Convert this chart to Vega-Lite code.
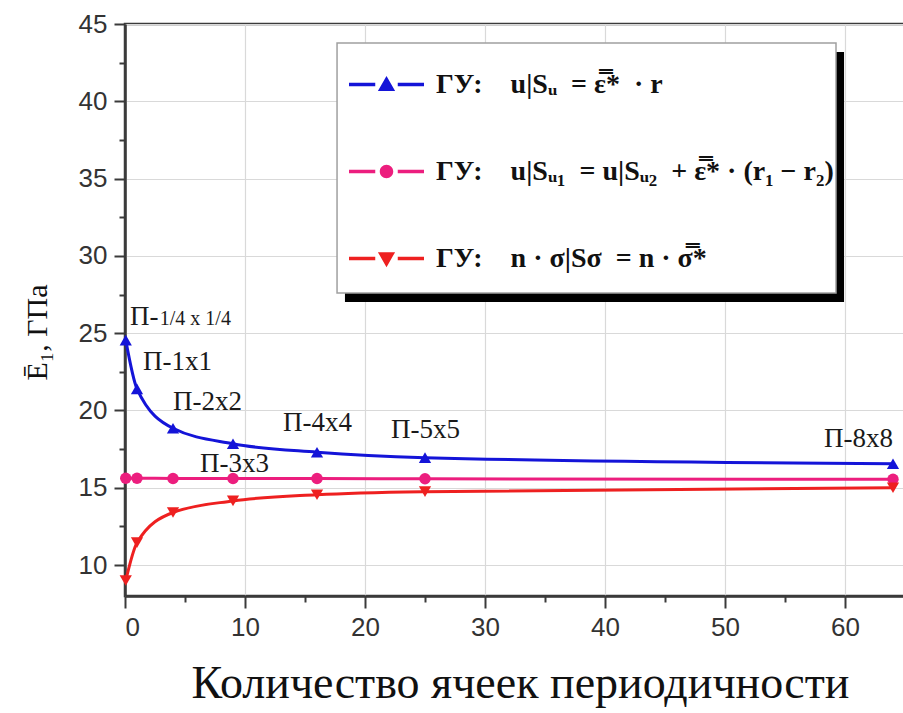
{
  "$schema": "https://vega.github.io/schema/vega-lite/v6.json",
  "width": 780,
  "height": 572,
  "autosize": {"type": "none"},
  "padding": {"left": 125, "top": 24, "right": 0, "bottom": 117},
  "background": "white",
  "config": {
    "view": {"stroke": "#3a3a3a", "strokeWidth": 2.5},
    "axis": {
      "labelFont": "Liberation Sans",
      "labelFontSize": 26,
      "labelColor": "#333333",
      "domainColor": "#3a3a3a",
      "domainWidth": 2.5,
      "tickColor": "#3a3a3a",
      "tickWidth": 2,
      "gridColor": "#d9d9d9",
      "gridWidth": 1.2,
      "titleFont": "Liberation Serif",
      "titleFontWeight": "normal",
      "titleColor": "#111111"
    }
  },
  "datasets": {
    "curves": [
      {"n": 0.0625, "E": 24.55, "bc": "ГУ:\u2003u|Sᵤ\u2002= ε̿*\u2002· r"},
      {"n": 1, "E": 21.4, "bc": "ГУ:\u2003u|Sᵤ\u2002= ε̿*\u2002· r"},
      {"n": 4, "E": 18.85, "bc": "ГУ:\u2003u|Sᵤ\u2002= ε̿*\u2002· r"},
      {"n": 9, "E": 17.85, "bc": "ГУ:\u2003u|Sᵤ\u2002= ε̿*\u2002· r"},
      {"n": 16, "E": 17.3, "bc": "ГУ:\u2003u|Sᵤ\u2002= ε̿*\u2002· r"},
      {"n": 25, "E": 16.95, "bc": "ГУ:\u2003u|Sᵤ\u2002= ε̿*\u2002· r"},
      {"n": 64, "E": 16.55, "bc": "ГУ:\u2003u|Sᵤ\u2002= ε̿*\u2002· r"},
      {"n": 0.0625, "E": 15.62, "bc": "ГУ:\u2003u|Sᵤ₁\u2002= u|Sᵤ₂\u2002+ ε̿* · (r₁ − r₂)"},
      {"n": 1, "E": 15.62, "bc": "ГУ:\u2003u|Sᵤ₁\u2002= u|Sᵤ₂\u2002+ ε̿* · (r₁ − r₂)"},
      {"n": 4, "E": 15.6, "bc": "ГУ:\u2003u|Sᵤ₁\u2002= u|Sᵤ₂\u2002+ ε̿* · (r₁ − r₂)"},
      {"n": 9, "E": 15.6, "bc": "ГУ:\u2003u|Sᵤ₁\u2002= u|Sᵤ₂\u2002+ ε̿* · (r₁ − r₂)"},
      {"n": 16, "E": 15.6, "bc": "ГУ:\u2003u|Sᵤ₁\u2002= u|Sᵤ₂\u2002+ ε̿* · (r₁ − r₂)"},
      {"n": 25, "E": 15.58, "bc": "ГУ:\u2003u|Sᵤ₁\u2002= u|Sᵤ₂\u2002+ ε̿* · (r₁ − r₂)"},
      {"n": 64, "E": 15.55, "bc": "ГУ:\u2003u|Sᵤ₁\u2002= u|Sᵤ₂\u2002+ ε̿* · (r₁ − r₂)"},
      {"n": 0.0625, "E": 9.0, "bc": "ГУ:\u2003n · σ|Sσ\u2002= n · σ̿*"},
      {"n": 1, "E": 11.45, "bc": "ГУ:\u2003n · σ|Sσ\u2002= n · σ̿*"},
      {"n": 4, "E": 13.4, "bc": "ГУ:\u2003n · σ|Sσ\u2002= n · σ̿*"},
      {"n": 9, "E": 14.15, "bc": "ГУ:\u2003n · σ|Sσ\u2002= n · σ̿*"},
      {"n": 16, "E": 14.55, "bc": "ГУ:\u2003n · σ|Sσ\u2002= n · σ̿*"},
      {"n": 25, "E": 14.75, "bc": "ГУ:\u2003n · σ|Sσ\u2002= n · σ̿*"},
      {"n": 64, "E": 15.0, "bc": "ГУ:\u2003n · σ|Sσ\u2002= n · σ̿*"}
    ],
    "labels": [
      {"lx": 1.5, "ly": 23.14, "t": "П-1x1"},
      {"lx": 4.0, "ly": 20.55, "t": "П-2x2"},
      {"lx": 6.25, "ly": 16.54, "t": "П-3x3"},
      {"lx": 13.17, "ly": 19.19, "t": "П-4x4"},
      {"lx": 22.17, "ly": 18.74, "t": "П-5x5"},
      {"lx": 58.25, "ly": 18.16, "t": "П-8x8"}
    ],
    "quarter": [
      {"lx": 0.42, "ly": 25.53, "t": "П-"}
    ],
    "quarterSmall": [
      {"lx": 2.9, "ly": 25.53, "t": "1/4 x 1/4"}
    ]
  },
  "layer": [
    {
      "data": {"values": [{}]},
      "mark": {"type": "rect", "color": "black"},
      "encoding": {
        "x": {"datum": 18.33, "type": "quantitative", "scale": {"domain": [0, 65], "nice": false, "zero": false},
          "axis": {
            "values": [0, 5, 10, 15, 20, 25, 30, 35, 40, 45, 50, 55, 60],
            "labelExpr": "datum.value % 10 === 0 ? datum.label : ''",
            "tickSize": {"condition": {"test": "datum.value % 10 === 0", "value": 12}, "value": 6},
            "gridOpacity": {"condition": {"test": "datum.value % 10 === 0", "value": 1}, "value": 0},
            "grid": true,
            "labelPadding": 6,
            "title": "Количество ячеек периодичности",
            "titleFontSize": 46,
            "titleX": 395,
            "titleY": 101,
            "titleAlign": "center",
            "titleBaseline": "alphabetic"
          }
        },
        "x2": {"datum": 59.92},
        "y": {"datum": 43.19, "type": "quantitative", "scale": {"domain": [8, 45], "nice": false, "zero": false},
          "axis": {
            "values": [10, 12.5, 15, 17.5, 20, 22.5, 25, 27.5, 30, 32.5, 35, 37.5, 40, 42.5, 45],
            "labelExpr": "datum.value % 5 === 0 ? datum.label : ''",
            "tickSize": {"condition": {"test": "datum.value % 5 === 0", "value": 11}, "value": 6},
            "gridOpacity": {"condition": {"test": "datum.value % 5 === 0", "value": 1}, "value": 0},
            "grid": true,
            "labelPadding": 7,
            "title": "Ē₁, ГПа",
            "titleFontSize": 30,
            "titleAngle": 270,
            "titleX": -88,
            "titleY": 308,
            "titleAlign": "center",
            "titleBaseline": "middle"
          }
        },
        "y2": {"datum": 27.02}
      }
    },
    {
      "data": {"values": [{}]},
      "mark": {"type": "rect", "fill": "white", "stroke": "#a0a0a0", "strokeWidth": 1.5},
      "encoding": {
        "x": {"datum": 17.67, "type": "quantitative"},
        "x2": {"datum": 59.25},
        "y": {"datum": 43.77, "type": "quantitative"},
        "y2": {"datum": 27.6}
      }
    },
    {
      "data": {"name": "curves"},
      "transform": [{"filter": {"field": "bc", "equal": "ГУ:\u2003u|Sᵤ\u2002= ε̿*\u2002· r"}}],
      "mark": {"type": "line", "interpolate": "monotone", "strokeWidth": 3, "color": "#1414d8"},
      "encoding": {
        "x": {"field": "n", "type": "quantitative"},
        "y": {"field": "E", "type": "quantitative"}
      }
    },
    {
      "data": {"name": "curves"},
      "transform": [{"filter": {"field": "bc", "equal": "ГУ:\u2003u|Sᵤ₁\u2002= u|Sᵤ₂\u2002+ ε̿* · (r₁ − r₂)"}}],
      "mark": {"type": "line", "interpolate": "monotone", "strokeWidth": 3, "color": "#ec1e7e"},
      "encoding": {
        "x": {"field": "n", "type": "quantitative"},
        "y": {"field": "E", "type": "quantitative"}
      }
    },
    {
      "data": {"name": "curves"},
      "transform": [{"filter": {"field": "bc", "equal": "ГУ:\u2003n · σ|Sσ\u2002= n · σ̿*"}}],
      "mark": {"type": "line", "interpolate": "monotone", "strokeWidth": 3, "color": "#ee2020"},
      "encoding": {
        "x": {"field": "n", "type": "quantitative"},
        "y": {"field": "E", "type": "quantitative"}
      }
    },
    {
      "data": {"name": "curves"},
      "transform": [{"filter": {"field": "bc", "equal": "ГУ:\u2003u|Sᵤ\u2002= ε̿*\u2002· r"}}],
      "mark": {"type": "point", "filled": true, "opacity": 1, "size": 150, "shape": "triangle-up", "color": "#1414d8"},
      "encoding": {
        "x": {"field": "n", "type": "quantitative"},
        "y": {"field": "E", "type": "quantitative"}
      }
    },
    {
      "data": {"name": "curves"},
      "transform": [{"filter": {"field": "bc", "equal": "ГУ:\u2003u|Sᵤ₁\u2002= u|Sᵤ₂\u2002+ ε̿* · (r₁ − r₂)"}}],
      "mark": {"type": "point", "filled": true, "opacity": 1, "size": 130, "shape": "circle", "color": "#ec1e7e"},
      "encoding": {
        "x": {"field": "n", "type": "quantitative"},
        "y": {"field": "E", "type": "quantitative"}
      }
    },
    {
      "data": {"name": "curves"},
      "transform": [{"filter": {"field": "bc", "equal": "ГУ:\u2003n · σ|Sσ\u2002= n · σ̿*"}}],
      "mark": {"type": "point", "filled": true, "opacity": 1, "size": 150, "shape": "triangle-down", "color": "#ee2020"},
      "encoding": {
        "x": {"field": "n", "type": "quantitative"},
        "y": {"field": "E", "type": "quantitative"}
      }
    },
    {
      "data": {"name": "curves"},
      "mark": {"type": "point", "filled": true, "opacity": 0, "size": 10},
      "encoding": {
        "x": {"field": "n", "type": "quantitative"},
        "y": {"field": "E", "type": "quantitative"},
        "shape": {"field": "bc", "type": "nominal",
          "scale": {"domain": ["ГУ:\u2003u|Sᵤ\u2002= ε̿*\u2002· r", "ГУ:\u2003u|Sᵤ₁\u2002= u|Sᵤ₂\u2002+ ε̿* · (r₁ − r₂)", "ГУ:\u2003n · σ|Sσ\u2002= n · σ̿*"],
                    "range": [
                      "M-1,-0.045H-0.3V0.045H-1Z M0.3,-0.045H1V0.045H0.3Z M-0.23,0.17L0.23,0.17L0,-0.23Z",
                      "M-1,-0.045H-0.3V0.045H-1Z M0.3,-0.045H1V0.045H0.3Z M-0.18,0A0.18,0.18,0,1,0,0.18,0A0.18,0.18,0,1,0,-0.18,0Z",
                      "M-1,-0.045H-0.3V0.045H-1Z M0.3,-0.045H1V0.045H0.3Z M-0.23,-0.17L0.23,-0.17L0,0.23Z"]},
          "legend": {
            "title": null,
            "orient": "none",
            "legendX": 224,
            "legendY": 23,
            "padding": 0,
            "symbolSize": 5625,
            "symbolOpacity": 1,
            "symbolStrokeWidth": 0,
            "labelFont": "Liberation Serif",
            "labelFontSize": 28,
            "labelFontWeight": "bold",
            "labelColor": "#111111",
            "labelOffset": 12,
            "labelLimit": 0,
            "rowPadding": 35
          }},
        "color": {"field": "bc", "type": "nominal",
          "scale": {"domain": ["ГУ:\u2003u|Sᵤ\u2002= ε̿*\u2002· r", "ГУ:\u2003u|Sᵤ₁\u2002= u|Sᵤ₂\u2002+ ε̿* · (r₁ − r₂)", "ГУ:\u2003n · σ|Sσ\u2002= n · σ̿*"],
                    "range": ["#1414d8", "#ec1e7e", "#ee2020"]},
          "legend": {
            "title": null,
            "orient": "none",
            "legendX": 224,
            "legendY": 23,
            "padding": 0,
            "symbolSize": 5625,
            "symbolOpacity": 1,
            "symbolStrokeWidth": 0,
            "labelFont": "Liberation Serif",
            "labelFontSize": 28,
            "labelFontWeight": "bold",
            "labelColor": "#111111",
            "labelOffset": 12,
            "labelLimit": 0,
            "rowPadding": 35
          }}
      }
    },
    {
      "data": {"name": "labels"},
      "mark": {"type": "text", "font": "Liberation Serif", "fontSize": 27, "align": "left", "baseline": "middle", "color": "#1a1a1a"},
      "encoding": {
        "x": {"field": "lx", "type": "quantitative"},
        "y": {"field": "ly", "type": "quantitative"},
        "text": {"field": "t"}
      }
    },
    {
      "data": {"name": "quarter"},
      "mark": {"type": "text", "font": "Liberation Serif", "fontSize": 27, "align": "left", "baseline": "alphabetic", "color": "#1a1a1a"},
      "encoding": {
        "x": {"field": "lx", "type": "quantitative"},
        "y": {"field": "ly", "type": "quantitative"},
        "text": {"field": "t"}
      }
    },
    {
      "data": {"name": "quarterSmall"},
      "mark": {"type": "text", "font": "Liberation Serif", "fontSize": 20, "align": "left", "baseline": "alphabetic", "color": "#1a1a1a"},
      "encoding": {
        "x": {"field": "lx", "type": "quantitative"},
        "y": {"field": "ly", "type": "quantitative"},
        "text": {"field": "t"}
      }
    }
  ]
}
